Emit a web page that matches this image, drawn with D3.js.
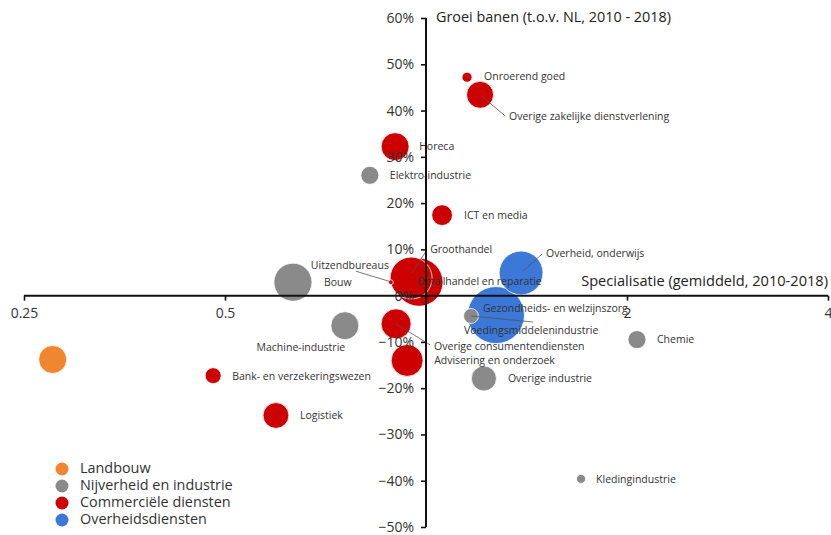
<!DOCTYPE html>
<html>
<head>
<meta charset="utf-8">
<script src="https://cdn.jsdelivr.net/npm/d3@7"></script>
<style>
  html, body { margin: 0; padding: 0; background: #fff; }
  svg { display: block; font-family: "Open Sans", "Noto Sans", sans-serif; }
</style>
</head>
<body>
<svg id="chart" width="831" height="535"></svg>
<script>
// ---------- DATA ----------
const groups = ["Landbouw", "Nijverheid en industrie", "Commerciële diensten", "Overheidsdiensten"];
const sectors = [
  "Landbouw", "Machine-industrie", "Bouw", "Uitzendbureaus", "Groothandel",
  "Detailhandel en reparatie", "Overheid, onderwijs", "Gezondheids- en welzijnszorg",
  "Voedingsmiddelenindustrie", "Overige consumentendiensten", "Advisering en onderzoek",
  "Overige industrie", "Chemie", "Kledingindustrie", "Bank- en verzekeringswezen",
  "Logistiek", "Horeca", "Elektro-industrie", "ICT en media", "Onroerend goed",
  "Overige zakelijke dienstverlening"
];
const sectorGroup = [0, 1, 1, 2, 2, 2, 3, 3, 1, 2, 2, 1, 1, 1, 2, 2, 2, 1, 2, 2, 2];
// Specialisatie (x, log scale)
const specialisatie = [0.276, 0.756, 0.632, 0.886, 0.950, 0.976, 1.388, 1.273, 1.168, 0.902, 0.937,
                       1.221, 2.07, 1.707, 0.480, 0.596, 0.899, 0.824, 1.057, 1.152, 1.205];
// Groei banen t.o.v. NL (y)
const groei = [-0.138, -0.065, 0.029, 0.029, 0.038, 0.029, 0.049, -0.042, -0.044, -0.061, -0.140,
               -0.179, -0.095, -0.396, -0.173, -0.259, 0.322, 0.260, 0.174, 0.472, 0.434];
// Omvang (banen, x1000, bubble size)
const banen = [20, 20, 37, 0.6, 45, 59, 49, 83, 5.7, 23, 26, 16, 8.3, 2.1, 6.5, 17, 20, 8.3, 11, 2.6, 18.6];
const xTicks = [0.25, 0.5, 1, 2, 4];
const xTickLabels = ["0.25", "0.5", "", "2", "4"];
const yTicks = [0.6, 0.5, 0.4, 0.3, 0.2, 0.1, 0, -0.1, -0.2, -0.3, -0.4, -0.5];

// ---------- STYLE ----------
const colors = ["#F0862F", "#8A8A8A", "#CC0000", "#3C78D8"];
// label placement relative to bubble centre: [dx, dy, anchor, leader?]
const labelPos = {
  "Landbouw": null,
  "Machine-industrie": [-44, 22, "middle"],
  "Bouw": [31, 1, "start"],
  "Uitzendbureaus": [-2, -16, "end", [-35, -11, -2, -1]],
  "Groothandel": [19, -28, "start", [15, -27, 1, -5]],
  "Detailhandel en reparatie": [-2, 0, "start"],
  "Overheid, onderwijs": [25, -19, "start", [21, -19, 2, -2]],
  "Gezondheids- en welzijnszorg": [-13, -6, "start"],
  "Voedingsmiddelenindustrie": [-7, 15, "start", [0, 0, 62, 6]],
  "Overige consumentendiensten": [38, 23, "start", [0, 0, 34, 21]],
  "Advisering en onderzoek": [27, 1, "start"],
  "Overige industrie": [24, 1, "start"],
  "Chemie": [20, 1, "start"],
  "Kledingindustrie": [15, 1, "start"],
  "Bank- en verzekeringswezen": [19, 1, "start"],
  "Logistiek": [24, 1, "start"],
  "Horeca": [24, 1, "start"],
  "Elektro-industrie": [20, 1, "start"],
  "ICT en media": [22, 1, "start"],
  "Onroerend goed": [17, 0, "start"],
  "Overige zakelijke dienstverlening": [29, 22, "start", [0, 0, 25, 21]]
};

const data = sectors.map((s, i) => ({
  name: s, group: sectorGroup[i], x: specialisatie[i], y: groei[i], size: banen[i]
}));

const svg = d3.select("#chart");
const x = d3.scaleLog().base(2).domain([0.25, 4]).range([24, 828]);
const y = d3.scaleLinear().domain([-0.5, 0.6]).range([527, 18]);
const r = d3.scaleSqrt().domain([0, 80]).range([0, 28]);

const x0 = x(1), y0 = y(0);

// bubbles (largest first)
const sorted = data.slice().sort((a, b) => b.size - a.size);
svg.append("g").selectAll("circle").data(sorted).join("circle")
  .attr("cx", d => x(d.x)).attr("cy", d => y(d.y)).attr("r", d => r(d.size))
  .attr("fill", d => colors[d.group])
  .attr("stroke", "#fff").attr("stroke-width", 1).attr("stroke-opacity", 0.8);

// leader lines
const lg = svg.append("g").attr("stroke", "#555").attr("stroke-width", 0.8);
data.forEach(d => {
  const p = labelPos[d.name];
  if (p && p[3]) {
    const cx = x(d.x), cy = y(d.y);
    lg.append("line")
      .attr("x1", cx + p[3][0]).attr("y1", cy + p[3][1])
      .attr("x2", cx + p[3][2]).attr("y2", cy + p[3][3]);
  }
});

// labels
svg.append("g").selectAll("text").data(data.filter(d => labelPos[d.name])).join("text")
  .attr("x", d => x(d.x) + labelPos[d.name][0])
  .attr("y", d => y(d.y) + labelPos[d.name][1])
  .attr("text-anchor", d => labelPos[d.name][2])
  .attr("dominant-baseline", "middle")
  .attr("font-size", 10.5).attr("fill", "#333")
  .text(d => d.name);

// axes
const xAxis = svg.append("g").attr("transform", `translate(0,${y0})`)
  .call(d3.axisBottom(x).tickValues(xTicks).tickFormat((d, i) => xTickLabels[i]).tickSize(5).tickPadding(7));
const yAxis = svg.append("g").attr("transform", `translate(${x0},0)`)
  .call(d3.axisLeft(y).tickValues(yTicks).tickFormat(d3.format(".0%")).tickSize(5).tickPadding(7));
[xAxis, yAxis].forEach(a => {
  a.select(".domain").attr("stroke", "#111").attr("stroke-width", 2);
  a.selectAll(".tick line").attr("stroke", "#111").attr("stroke-width", 1.6);
  a.selectAll(".tick text").attr("font-size", 14).attr("fill", "#333")
    .attr("font-family", "\"Open Sans\", \"Noto Sans\", sans-serif");
});
yAxis.select(".domain").attr("d", `M0,${y(0.6)}V${y(-0.5)}`);
xAxis.select(".domain").attr("d", `M${x(0.25)},0H${x(4)}`);

// axis titles
svg.append("text").attr("x", x0 + 10).attr("y", y(0.6)).attr("dominant-baseline", "middle")
  .attr("font-size", 14.4).attr("fill", "#222").text("Groei banen (t.o.v. NL, 2010 - 2018)");
svg.append("text").attr("x", x(4)).attr("y", y0 - 14).attr("dominant-baseline", "middle")
  .attr("text-anchor", "end").attr("font-size", 14.6).attr("fill", "#222")
  .text("Specialisatie (gemiddeld, 2010-2018)");

// legend
const leg = svg.append("g").attr("transform", "translate(62,469)");
groups.forEach((g, i) => {
  leg.append("circle").attr("cx", 0).attr("cy", i * 17).attr("r", 6.5).attr("fill", colors[i]);
  leg.append("text").attr("x", 18).attr("y", i * 17).attr("dominant-baseline", "middle")
    .attr("font-size", 14.4).attr("fill", "#333").text(g);
});
</script>
</body>
</html>
